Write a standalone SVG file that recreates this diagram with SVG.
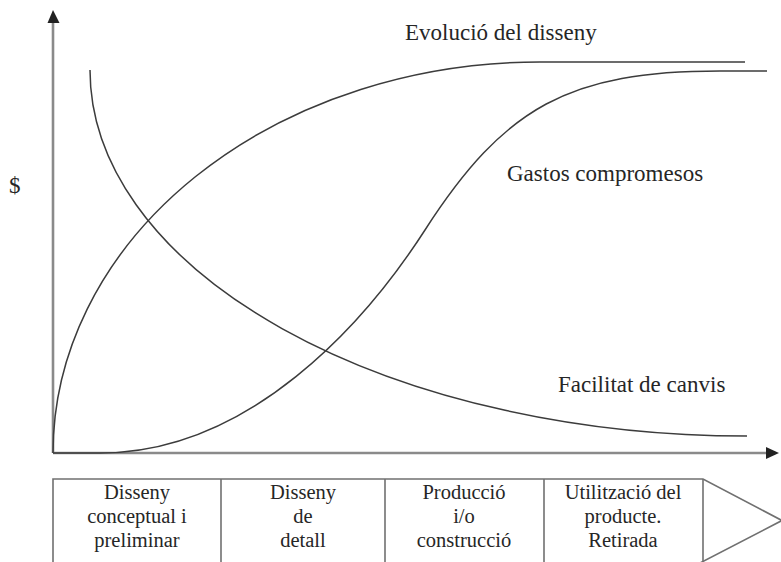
<svg xmlns="http://www.w3.org/2000/svg" width="781" height="562" viewBox="0 0 781 562">
  <style>
    .axis { stroke: #8a8a8a; stroke-width: 2.6; fill: none; }
    .curve { stroke: #3c3c3c; stroke-width: 1.5; fill: none; stroke-linejoin: round; }
    .box { stroke: #707070; stroke-width: 1.6; fill: none; }
    .lbl { font-family: "Liberation Serif", "Times New Roman", serif; font-size: 23px; fill: #262626; }
    .ph { font-family: "Liberation Serif", "Times New Roman", serif; font-size: 20.5px; fill: #262626; text-anchor: middle; }
  </style>
  <rect width="781" height="562" fill="#ffffff"/>

  <g id="connectors">
    <g id="axes">
      <line class="axis" x1="53" y1="453" x2="53" y2="20"/>
      <polygon points="53,10 47.5,23 59.5,23" fill="#222"/>
      <line class="axis" x1="53" y1="453" x2="768" y2="453"/>
      <polygon points="779,453 766,447 766,459" fill="#222"/>
    </g>
    <path id="curve-facilitat" class="curve" d="M90,70 A657,366 0 0 0 747,436"/>
    <path id="curve-evolucio" class="curve" d="M53,453 A487,391 0 0 1 540,62 L745,62"/>
    <path id="curve-gastos" class="curve" d="M53,453 L100,453 C250,453 365,323 425,230 C505,106 570,71 720,71 L767,71"/>
  </g>

  <g id="label-y"><text class="lbl" x="9" y="193" font-size="20">$</text></g>
  <g id="label-evolucio"><text class="lbl" x="405" y="40">Evolució del disseny</text></g>
  <g id="label-gastos"><text class="lbl" x="507" y="181">Gastos compromesos</text></g>
  <g id="label-facilitat"><text class="lbl" x="558" y="392">Facilitat de canvis</text></g>

  <g id="phases">
    <path class="box" d="M53,566 V479 H703 L782,520.5 L700,563"/>
    <line class="box" x1="221" y1="479" x2="221" y2="566"/>
    <line class="box" x1="385" y1="479" x2="385" y2="566"/>
    <line class="box" x1="544" y1="479" x2="544" y2="566"/>
    <line class="box" x1="703" y1="479" x2="703" y2="566"/>
  </g>
  <g id="phase-1">
    <text class="ph" x="137" y="499">Disseny</text>
    <text class="ph" x="137" y="523">conceptual i</text>
    <text class="ph" x="137" y="547">preliminar</text>
  </g>
  <g id="phase-2">
    <text class="ph" x="303" y="499">Disseny</text>
    <text class="ph" x="303" y="523">de</text>
    <text class="ph" x="303" y="547">detall</text>
  </g>
  <g id="phase-3">
    <text class="ph" x="464" y="499">Producció</text>
    <text class="ph" x="464" y="523">i/o</text>
    <text class="ph" x="464" y="547">construcció</text>
  </g>
  <g id="phase-4">
    <text class="ph" x="623" y="499">Utilització del</text>
    <text class="ph" x="623" y="523">producte.</text>
    <text class="ph" x="623" y="547">Retirada</text>
  </g>
</svg>
